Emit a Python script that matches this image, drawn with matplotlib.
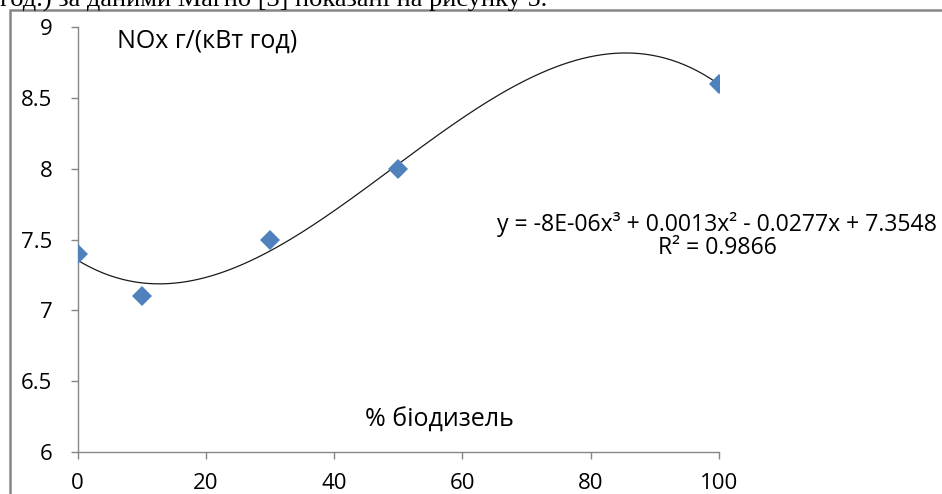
import numpy as np
import matplotlib
matplotlib.use("Agg")
import matplotlib.pyplot as plt
from matplotlib.patches import Rectangle

# дані з рисунку: вміст біодизелю (%) та викиди NOx, г/(кВт год)
biodiesel = [0, 10, 30, 50, 100]
nox = [7.4, 7.1, 7.5, 8.0, 8.6]
x_ticks = [0, 20, 40, 60, 80, 100]
y_ticks = [6, 6.5, 7, 7.5, 8, 8.5, 9]
y_labels = ['6', '6.5', '7', '7.5', '8', '8.5', '9']

plt.rcParams['font.family'] = ['Open Sans', 'DejaVu Sans']

fig = plt.figure(figsize=(9.42, 4.94), dpi=100)
W, H = 942, 494

# рамка області діаграми (обрізана знизу і справа)
fig.patches.append(Rectangle((9.5 / W, -0.2), 1.2, (H - 10.5) / H + 0.2,
                             transform=fig.transFigure, fill=False,
                             edgecolor='#868686', linewidth=1.8, clip_on=False))

# залишок рядка тексту над рисунком
fig.text(0, 1 - 7 / H, "год.) за даними Магно [3] показані на рисунку 5.",
         family='Liberation Serif', fontsize=19, va='baseline', ha='left')

ax = fig.add_axes([77.5 / W, 1 - 451.7 / H, (719 - 77.5) / W, (451.7 - 27.5) / H])
ax.set_facecolor('none')

# поліноміальна лінія тренду 3-го степеня
coef = np.polyfit(biodiesel, nox, 3)
xs = np.linspace(min(biodiesel), max(biodiesel), 300)
ax.plot(xs, np.polyval(coef, xs), color='#1a1a1a', linewidth=0.9, zorder=2)

ax.plot(biodiesel, nox, linestyle='none', marker='D', markersize=10.5,
        color='#4f81bd', markeredgewidth=0, zorder=3)

ax.set_xlim(0, 100)
ax.set_ylim(6, 9)
ax.set_xticks(x_ticks)
ax.set_yticks(y_ticks)
ax.set_xticklabels([str(v) for v in x_ticks])
ax.set_yticklabels(y_labels)
ax.tick_params(axis='both', colors='#868686', labelcolor='black', labelsize=16,
               length=5, width=1)
ax.tick_params(axis='y', pad=13)
ax.tick_params(axis='x', pad=10)
for s in ['top', 'right']:
    ax.spines[s].set_visible(False)
for s in ['left', 'bottom']:
    ax.spines[s].set_color('#868686')
    ax.spines[s].set_linewidth(1)

fig.text(117 / W, 1 - 41 / H, "NOx г/(кВт год)", fontsize=18, va='center', ha='left')
fig.text(439 / W, 1 - 420 / H, "% біодизель", fontsize=18, va='center', ha='center')

fig.text(937 / W, 1 - 224 / H,
         "y = -8E-06x³ + 0.0013x² - 0.0277x + 7.3548",
         fontsize=16.6, va='center', ha='right')
fig.text(717.5 / W, 1 - 248 / H, "R² = 0.9866",
         fontsize=16.6, va='center', ha='center')

fig.savefig("out.png", dpi=100)
